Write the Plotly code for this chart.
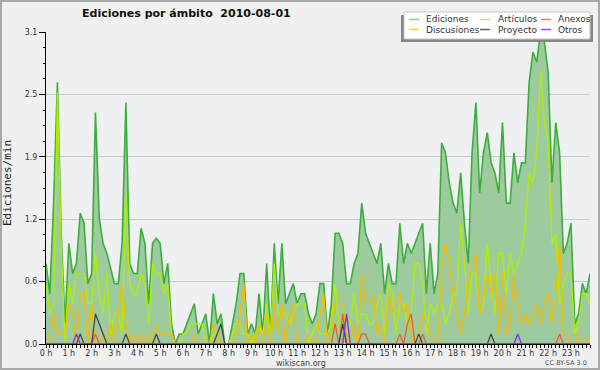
import plotly.graph_objects as go

# ---- data (10-minute buckets, edits per minute) ----
hours = [i / 6 for i in range(144)]

ediciones = [0.8, 0.5, 1.4, 2.6, 1.1, 0.2, 1.0, 0.7, 0.8, 1.3,
             1.2, 0.6, 0.7, 2.3, 1.25, 1.0, 0.9, 0.75, 0.6, 0.6,
             1.0, 2.4, 0.8, 0.7, 0.7, 1.15, 1.0, 0.4, 1.0, 1.05,
             1.0, 0.6, 0.8, 0.2, 0.0, 0.1, 0.1, 0.2, 0.3, 0.4,
             0.1, 0.2, 0.3, 0.0, 0.5, 0.2, 0.3, 0.0, 0.0, 0.2,
             0.4, 0.7, 0.7, 0.1, 0.2, 0.1, 0.5, 0.1, 0.8, 0.1,
             1.0, 0.4, 1.0, 0.4, 0.5, 0.6, 0.4, 0.5, 0.5, 0.3,
             0.2, 0.3, 0.6, 0.6, 0.1, 0.4, 1.1, 1.1, 1.0, 0.6,
             0.6, 0.8, 0.9, 1.4, 1.1, 1.0, 0.9, 0.8, 1.0, 0.5,
             0.8, 0.6, 0.6, 1.2, 0.8, 1.0, 0.9, 1.0, 1.1, 1.2,
             0.5, 1.0, 0.5, 0.7, 2.0, 1.9, 1.6, 1.4, 1.3, 1.7,
             1.2, 0.8, 1.9, 2.4, 1.5, 1.9, 2.1, 1.8, 1.7, 1.5,
             2.2, 1.4, 1.4, 1.9, 1.6, 1.8, 1.8, 2.6, 2.9, 2.8,
             3.1, 3.0, 2.7, 1.6, 2.2, 1.9, 0.9, 1.0, 1.2, 0.2,
             0.3, 0.6, 0.5, 0.7]

articulos = [0.6, 0.3, 0.4, 2.5, 1.0, 0.0, 0.6, 0.4, 0.7, 0.7,
             0.7, 0.4, 0.4, 0.9, 0.5, 0.3, 0.7, 0.1, 0.3, 0.3,
             0.1, 1.5, 0.6, 0.5, 0.5, 0.7, 0.6, 0.2, 0.8, 0.7,
             0.7, 0.5, 0.6, 0.1, 0.0, 0.0, 0.1, 0.1, 0.2, 0.2,
             0.2, 0.2, 0.0, 0.0, 0.1, 0.1, 0.0, 0.0, 0.0, 0.1,
             0.2, 0.2, 0.1, 0.1, 0.0, 0.1, 0.2, 0.1, 0.4, 0.1,
             0.8, 0.3, 0.3, 0.3, 0.2, 0.3, 0.4, 0.4, 0.4, 0.0,
             0.1, 0.2, 0.1, 0.1, 0.1, 0.2, 0.6, 0.2, 0.2, 0.1,
             0.2, 0.5, 0.2, 0.3, 0.3, 0.2, 0.2, 0.4, 0.5, 0.1,
             0.6, 0.5, 0.1, 0.4, 0.4, 0.2, 0.3, 0.8, 0.8, 0.6,
             0.1, 0.4, 0.3, 0.4, 0.4, 0.2, 0.3, 0.5, 0.5, 1.2,
             0.8, 0.3, 0.7, 0.7, 0.3, 0.4, 1.0, 0.6, 0.3, 0.9,
             0.9, 0.5, 0.9, 0.7, 0.8, 0.9, 1.2, 1.7, 1.6, 1.9,
             2.7, 2.2, 2.0, 1.0, 1.1, 0.4, 0.6, 0.7, 0.7, 0.1,
             0.2, 0.5, 0.5, 0.4]

discusiones = [0.0, 0.0, 0.3, 0.1, 0.1, 0.1, 0.4, 0.3, 0.0, 0.5,
               0.5, 0.0, 0.4, 0.0, 0.0, 0.1, 0.0, 0.2, 0.0, 0.3,
               0.6, 0.2, 0.0, 0.1, 0.0, 0.1, 0.0, 0.1, 0.0, 0.2,
               0.1, 0.1, 0.1, 0.1, 0.0, 0.0, 0.0, 0.0, 0.0, 0.1,
               0.0, 0.0, 0.0, 0.0, 0.2, 0.1, 0.0, 0.0, 0.0, 0.0,
               0.1, 0.3, 0.6, 0.0, 0.1, 0.0, 0.2, 0.0, 0.3, 0.0,
               0.4, 0.1, 0.4, 0.0, 0.3, 0.4, 0.0, 0.0, 0.0, 0.1,
               0.0, 0.0, 0.3, 0.5, 0.0, 0.1, 0.4, 0.4, 0.4, 0.1,
               0.0, 0.2, 0.0, 0.7, 0.4, 0.4, 0.5, 0.1, 0.2, 0.0,
               0.5, 0.3, 0.4, 0.5, 0.3, 0.4, 0.1, 0.0, 0.1, 0.3,
               0.2, 0.1, 0.0, 0.0, 0.75, 1.0, 0.8, 0.5, 0.3, 0.1,
               0.3, 0.6, 0.8, 0.9, 0.3, 0.5, 0.7, 0.5, 0.7, 0.1,
               0.7, 0.1, 0.2, 0.7, 0.4, 0.2, 0.3, 0.2, 0.3, 0.4,
               0.2, 0.4, 0.5, 0.2, 0.5, 1.0, 0.1, 0.1, 0.0, 0.0,
               0.1, 0.0, 0.0, 0.1]

def sparse(points):
    vals = [0.0] * 144
    for k, v in points.items():
        vals[k] = v
    return vals

anexos = sparse({13: 0.1, 76: 0.2, 78: 0.3, 83: 0.1, 84: 0.1, 93: 0.1,
                 95: 0.2, 96: 0.3, 99: 0.1, 135: 0.1})
proyecto = sparse({9: 0.1, 13: 0.3, 14: 0.2, 15: 0.1, 21: 0.1, 29: 0.1,
                   45: 0.1, 46: 0.2, 78: 0.2, 98: 0.1, 117: 0.1})
otros = sparse({8: 0.1, 79: 0.3, 124: 0.1})

y_tickvals = [0, 0.62, 1.24, 1.86, 2.48, 3.1]
y_ticktext = ["0.0", "0.6", "1.2", "1.9", "2.5", "3.1"]
x_tickvals = list(range(24))
x_ticktext = [f"{h} h" for h in x_tickvals]

# ---- figure ----
fig = go.Figure()
fig.add_trace(go.Scatter(x=hours, y=ediciones, mode="lines", name="Ediciones",
                         line=dict(color="#3cae3c", width=1.6),
                         fill="tozeroy", fillcolor="#9ecb9e"))
fig.add_trace(go.Scatter(x=hours, y=articulos, mode="lines", name="Artículos",
                         line=dict(color="#b2ee00", width=1.3)))
fig.add_trace(go.Scatter(x=hours, y=discusiones, mode="lines", name="Discusiones",
                         line=dict(color="#f5bb00", width=1.3)))
fig.add_trace(go.Scatter(x=hours, y=anexos, mode="lines", name="Anexos",
                         line=dict(color="#e8602a", width=1.3)))
fig.add_trace(go.Scatter(x=hours, y=proyecto, mode="lines", name="Proyecto",
                         line=dict(color="#404040", width=1.2)))
fig.add_trace(go.Scatter(x=hours, y=otros, mode="lines", name="Otros",
                         line=dict(color="#8030f0", width=1.3)))

L, R, T, B = 46, 590, 32, 344
def px(x):
    return (x - L) / (R - L)
def py(y):
    return (B - y) / (B - T)

shapes = []
annotations = []

# outer frame
shapes.append(dict(type="rect", xref="paper", yref="paper", layer="above",
                   x0=px(1), x1=px(599), y0=py(369), y1=py(1),
                   line=dict(color="#a8a8a8", width=2)))

# legend box (manual)
shapes.append(dict(type="rect", xref="paper", yref="paper", layer="above",
                   x0=px(401), x1=px(593), y0=py(42), y1=py(15),
                   fillcolor="#858585", line=dict(width=0)))
shapes.append(dict(type="rect", xref="paper", yref="paper", layer="above",
                   x0=px(404), x1=px(590), y0=py(39), y1=py(12),
                   fillcolor="white", line=dict(color="#c8c8c8", width=1)))

legend_items = [
    ("Ediciones", "#88cc88", 409, 424, 19.5),
    ("Artículos", "#c8ee55", 480, 496, 19.5),
    ("Anexos", "#f08050", 541, 556, 19.5),
    ("Discusiones", "#ffcc44", 409, 424, 29.5),
    ("Proyecto", "#666666", 480, 496, 29.5),
    ("Otros", "#9a50f0", 541, 556, 29.5),
]
for name, col, lx, tx, ly in legend_items:
    shapes.append(dict(type="line", xref="paper", yref="paper", layer="above",
                       x0=px(lx), x1=px(lx + 10), y0=py(ly), y1=py(ly),
                       line=dict(color=col, width=1.5)))
    annotations.append(dict(text=name, xref="paper", yref="paper",
                            x=px(tx), y=py(ly), xanchor="left", yanchor="middle",
                            showarrow=False,
                            font=dict(family="DejaVu Sans", size=9, color="#333333")))

# title
annotations.append(dict(text="<b>Ediciones por ámbito  2010-08-01</b>",
                        xref="paper", yref="paper", x=px(186.5), y=py(13.5),
                        xanchor="center", yanchor="middle", showarrow=False,
                        font=dict(family="DejaVu Sans", size=11, color="#111111")))
# y axis title
annotations.append(dict(text="Ediciones/min", xref="paper", yref="paper",
                        x=px(8), y=py(183), xanchor="center", yanchor="middle",
                        textangle=-90, showarrow=False,
                        font=dict(family="DejaVu Sans Mono", size=11, color="#222222")))
# footer
annotations.append(dict(text="wikiscan.org", xref="paper", yref="paper",
                        x=px(300.5), y=py(363.5), xanchor="center", yanchor="middle",
                        showarrow=False,
                        font=dict(family="DejaVu Sans", size=8, color="#444444")))
annotations.append(dict(text="CC BY-SA 3.0", xref="paper", yref="paper",
                        x=px(589), y=py(363), xanchor="right", yanchor="middle",
                        showarrow=False,
                        font=dict(family="DejaVu Sans", size=6.5, color="#555555")))

fig.update_layout(
    width=600, height=370, autosize=False,
    margin=dict(l=L, r=600 - R, t=T, b=370 - B, pad=0),
    paper_bgcolor="#f0f0f0", plot_bgcolor="#eef0f2",
    showlegend=False, hovermode=False,
    shapes=shapes, annotations=annotations,
    font=dict(family="DejaVu Sans", size=8, color="#333333"),
)
fig.update_xaxes(
    range=[0, 143 / 6], tickmode="array", tickvals=x_tickvals, ticktext=x_ticktext,
    ticks="outside", ticklen=3, tickcolor="black", tickwidth=1,
    ticklabelstandoff=-2,
    showline=True, linecolor="black", linewidth=1, showgrid=False, zeroline=False,
    tickfont=dict(family="DejaVu Sans", size=8, color="#333333"),
    minor=dict(tickmode="linear", tick0=0, dtick=1 / 6, ticks="outside",
               ticklen=3, tickcolor="black", showgrid=False),
)
fig.update_yaxes(
    range=[0, 3.1], tickmode="array", tickvals=y_tickvals, ticktext=y_ticktext,
    ticks="outside", ticklen=6, tickcolor="black", tickwidth=1,
    showline=True, linecolor="black", linewidth=1,
    showgrid=True, gridcolor="#cacaca", gridwidth=1, zeroline=False,
    tickfont=dict(family="DejaVu Sans", size=8, color="#333333"),
    minor=dict(tickmode="linear", tick0=0, dtick=0.155, ticks="outside",
               ticklen=2, tickcolor="black", showgrid=False),
)

fig.write_html("out.html", config={"displayModeBar": False},
               post_script="document.body.style.margin='0';")
